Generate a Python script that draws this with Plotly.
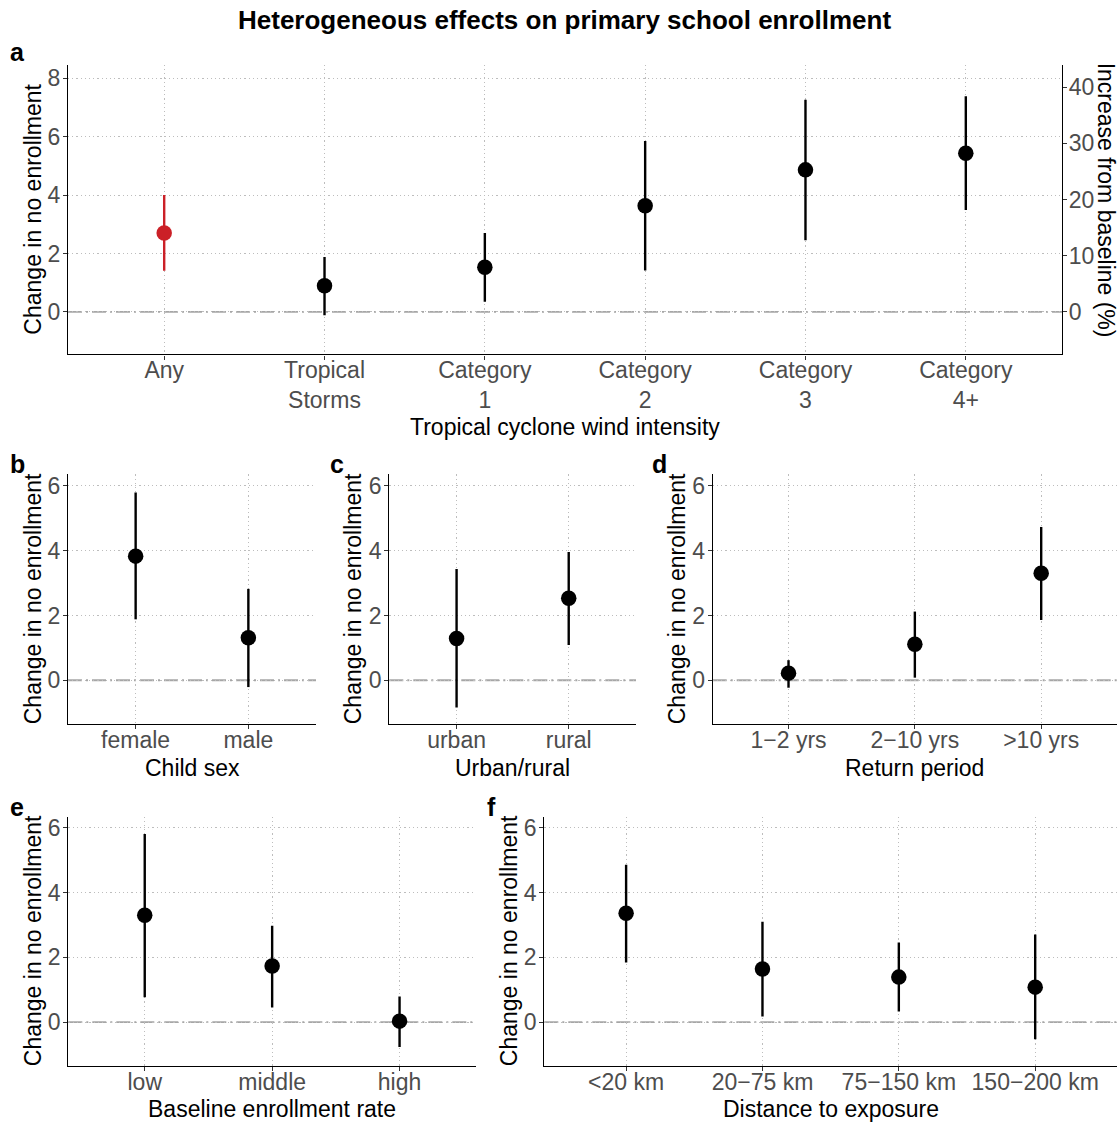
import plotly.graph_objects as go

W, H = 1119, 1124

# ---------------- data ----------------
a_labels = ["Any", "Tropical<br>Storms", "Category<br>1", "Category<br>2", "Category<br>3", "Category<br>4+"]
a_est = [2.70, 0.90, 1.53, 3.63, 4.86, 5.43]
a_lo = [1.41, -0.11, 0.35, 1.42, 2.45, 3.49]
a_hi = [4.00, 1.88, 2.70, 5.85, 7.26, 7.38]
a_colors = ["#CB2027", "black", "black", "black", "black", "black"]

b_labels = ["female", "male"]
b_est = [3.83, 1.31]
b_lo = [1.88, -0.21]
b_hi = [5.79, 2.82]

c_labels = ["urban", "rural"]
c_est = [1.29, 2.53]
c_lo = [-0.84, 1.09]
c_hi = [3.43, 3.96]

d_labels = ["1\u22122 yrs", "2\u221210 yrs", ">10 yrs"]
d_est = [0.22, 1.11, 3.30]
d_lo = [-0.23, 0.08, 1.86]
d_hi = [0.62, 2.12, 4.73]

e_labels = ["low", "middle", "high"]
e_est = [3.30, 1.73, 0.03]
e_lo = [0.77, 0.45, -0.77]
e_hi = [5.81, 2.98, 0.79]

f_labels = ["<20 km", "20\u221275 km", "75\u2212150 km", "150\u2212200 km"]
f_est = [3.36, 1.64, 1.39, 1.08]
f_lo = [1.84, 0.17, 0.33, -0.53]
f_hi = [4.86, 3.10, 2.46, 2.71]

a_right_ticks = [0, 10, 20, 30, 40]
pct_factor = 5.2  # % of baseline per percentage point

# ---------------- layout geometry (pixels) ----------------
panels = {
    "a": dict(x=(68, 1062), y=(63, 353), labels=a_labels, est=a_est, lo=a_lo, hi=a_hi,
              colors=a_colors, yr=(-1.45, 8.45), yt=[0, 2, 4, 6, 8],
              xtitle="Tropical cyclone wind intensity", xt_y=426, yt_x=33, lab=(17, 50)),
    "b": dict(x=(68, 316), y=(473.3, 723.3), labels=b_labels, est=b_est, lo=b_lo, hi=b_hi,
              colors=None, yr=(-1.35, 6.35), yt=[0, 2, 4, 6],
              xtitle="Child sex", xt_y=767, yt_x=33, lab=(17, 463)),
    "c": dict(x=(389.3, 636), y=(473.3, 723.3), labels=c_labels, est=c_est, lo=c_lo, hi=c_hi,
              colors=None, yr=(-1.35, 6.35), yt=[0, 2, 4, 6],
              xtitle="Urban/rural", xt_y=767, yt_x=353, lab=(337, 463)),
    "d": dict(x=(712.7, 1117), y=(473.3, 723.3), labels=d_labels, est=d_est, lo=d_lo, hi=d_hi,
              colors=None, yr=(-1.35, 6.35), yt=[0, 2, 4, 6],
              xtitle="Return period", xt_y=767, yt_x=677, lab=(659, 463)),
    "e": dict(x=(68.3, 476), y=(816, 1065.7), labels=e_labels, est=e_est, lo=e_lo, hi=e_hi,
              colors=None, yr=(-1.35, 6.35), yt=[0, 2, 4, 6],
              xtitle="Baseline enrollment rate", xt_y=1109, yt_x=33, lab=(17, 806)),
    "f": dict(x=(544.3, 1117), y=(816, 1065.7), labels=f_labels, est=f_est, lo=f_lo, hi=f_hi,
              colors=None, yr=(-1.35, 6.35), yt=[0, 2, 4, 6],
              xtitle="Distance to exposure", xt_y=1109, yt_x=509, lab=(491, 806)),
}

FONT = "Liberation Sans, Arial, Helvetica, sans-serif"
TICK_COLOR = "#4d4d4d"
GRID = "#bdbdbd"
GRID_DASH = "1.2px,3px"

fig = go.Figure()
layout = {}
annotations = []
shapes = []

for i, (key, p) in enumerate(panels.items()):
    n = i + 1
    xa = "x" if n == 1 else f"x{n}"
    ya = "y" if n == 1 else f"y{n}"
    xkey = "xaxis" if n == 1 else f"xaxis{n}"
    ykey = "yaxis" if n == 1 else f"yaxis{n}"
    npts = len(p["labels"])
    xs = list(range(npts))
    colors = p["colors"] or ["black"] * npts
    for j in range(npts):
        fig.add_trace(go.Scatter(
            x=[xs[j]], y=[p["est"][j]], xaxis=xa, yaxis=ya, mode="markers",
            marker=dict(size=15.5, color=colors[j]),
            error_y=dict(type="data", symmetric=False,
                         array=[p["hi"][j] - p["est"][j]],
                         arrayminus=[p["est"][j] - p["lo"][j]],
                         width=0, thickness=2.4, color=colors[j]),
            showlegend=False, hoverinfo="skip"))
    x0, x1 = p["x"]
    y0, y1 = p["y"]
    layout[xkey] = dict(
        domain=[x0 / W, x1 / W], anchor=ya, range=[-0.6, npts - 1 + 0.6],
        tickmode="array", tickvals=xs, ticktext=p["labels"],
        showline=True, linecolor="black", linewidth=1.3,
        ticks="outside", ticklen=4, tickcolor="#333333", tickwidth=1,
        ticklabelstandoff=-9,
        tickfont=dict(size=23, color=TICK_COLOR, family=FONT),
        showgrid=True, gridcolor=GRID, griddash=GRID_DASH, gridwidth=1,
        zeroline=False, fixedrange=True)
    layout[ykey] = dict(
        domain=[1 - y1 / H, 1 - y0 / H], anchor=xa, range=list(p["yr"]),
        tickmode="array", tickvals=p["yt"], ticktext=[str(v) for v in p["yt"]],
        showline=True, linecolor="black", linewidth=1.3,
        ticks="outside", ticklen=4, tickcolor="#333333", tickwidth=1,
        ticklabelstandoff=-2,
        tickfont=dict(size=23, color=TICK_COLOR, family=FONT),
        showgrid=True, gridcolor=GRID, griddash=GRID_DASH, gridwidth=1,
        zeroline=False, fixedrange=True)
    # zero reference line
    shapes.append(dict(type="line", xref="paper", x0=x0 / W, x1=x1 / W, yref=ya, y0=0, y1=0,
                       line=dict(color="#a6a6a6", width=1.8, dash="14px,4px,2px,4px"),
                       layer="below"))
    # axis titles
    annotations.append(dict(text=p["xtitle"], xref="paper", yref="paper",
                            x=(x0 + x1) / 2 / W, y=1 - p["xt_y"] / H,
                            showarrow=False, xanchor="center", yanchor="middle",
                            font=dict(size=23, color="black", family=FONT)))
    annotations.append(dict(text="Change in no enrollment", xref="paper", yref="paper",
                            x=p["yt_x"] / W, y=1 - (y0 + y1) / 2 / H, textangle=-90,
                            showarrow=False, xanchor="center", yanchor="middle",
                            font=dict(size=23, color="black", family=FONT)))
    # panel letter
    annotations.append(dict(text=f"<b>{key}</b>", xref="paper", yref="paper",
                            x=p["lab"][0] / W, y=1 - p["lab"][1] / H,
                            showarrow=False, xanchor="center", yanchor="middle",
                            font=dict(size=25, color="black", family=FONT)))

# secondary axis on panel a (percent of baseline)
pa = panels["a"]
layout["yaxis7"] = dict(
    domain=[1 - pa["y"][1] / H, 1 - pa["y"][0] / H], anchor="x", overlaying="y", side="right",
    range=[pa["yr"][0] * pct_factor, pa["yr"][1] * pct_factor],
    tickmode="array", tickvals=a_right_ticks, ticktext=[str(v) for v in a_right_ticks],
    showline=True, linecolor="black", linewidth=1.3,
    ticks="outside", ticklen=4, tickcolor="#333333", tickwidth=1,
    ticklabelstandoff=-3,
    tickfont=dict(size=23, color=TICK_COLOR, family=FONT),
    showgrid=False, zeroline=False, fixedrange=True)
fig.add_trace(go.Scatter(x=[None], y=[None], xaxis="x", yaxis="y7", showlegend=False,
                         hoverinfo="skip"))
annotations.append(dict(text="Increase from baseline (%)", xref="paper", yref="paper",
                        x=1106 / W, y=1 - 198 / H, textangle=90,
                        showarrow=False, xanchor="center", yanchor="middle",
                        font=dict(size=23, color="black", family=FONT)))

annotations.append(dict(text="<b>Heterogeneous effects on primary school enrollment</b>",
                        xref="paper", yref="paper", x=564 / W, y=1 - 18 / H,
                        showarrow=False, xanchor="center", yanchor="middle",
                        font=dict(size=26, color="black", family=FONT)))

fig.update_layout(
    width=W, height=H, margin=dict(l=0, r=0, t=0, b=0),
    paper_bgcolor="white", plot_bgcolor="white",
    annotations=annotations, shapes=shapes, showlegend=False,
    font=dict(family=FONT), **layout)

fig.write_html("out.html")
